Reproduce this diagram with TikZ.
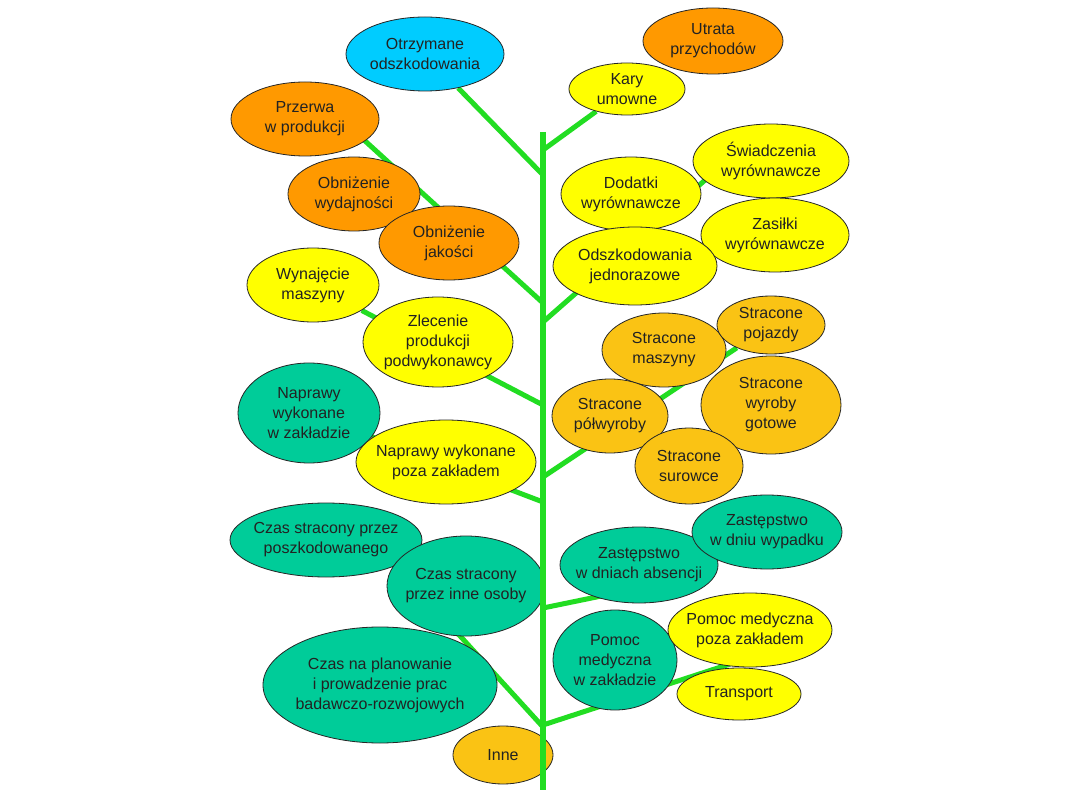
\documentclass[tikz,border=0pt]{standalone}
\usepackage{fontspec}
\setmainfont{Liberation Sans}
\usetikzlibrary{shapes.geometric}
\pgfdeclarelayer{background}
\pgfdeclarelayer{foreground}
\pgfsetlayers{background,main,foreground}
\definecolor{cyanc}{HTML}{00CCFF}
\definecolor{orangec}{HTML}{FF9900}
\definecolor{yellowc}{HTML}{FFFF00}
\definecolor{tealc}{HTML}{00CC99}
\definecolor{goldc}{HTML}{FAC314}
\definecolor{branchc}{HTML}{22DD22}
\definecolor{txtc}{HTML}{222222}
\tikzset{
  leaf/.style={ellipse, draw=black!85, line width=0.8pt, inner xsep=-12pt, inner ysep=-8pt, align=center,
    font=\fontsize{16}{20}\selectfont, text=txtc},
  branch/.style={draw=branchc, line width=5pt},
  trunkline/.style={draw=branchc, line width=6pt},
}
\begin{document}
\begin{tikzpicture}[x=1pt,y=-1pt]
\useasboundingbox (0,0) rectangle (1080,810);

% trunk and branch coordinates
\coordinate (ttop) at (543,132);
\coordinate (tbot) at (543,790);
\coordinate (tL1) at (543,175);
\coordinate (tR1) at (543,150);
\coordinate (tL2) at (543,303);
\coordinate (tR2) at (543,322);
\coordinate (tL3) at (543,405);
\coordinate (tR3) at (543,477);
\coordinate (tL4) at (543,502);
\coordinate (tR4) at (543,608);
\coordinate (tL5) at (543,727);
\coordinate (tR5) at (543,725);
\coordinate (sL2) at (330,109);
\coordinate (sR2) at (720,167);
\coordinate (sL5) at (420,592);
\coordinate (sR4) at (650,586);
\coordinate (sR5) at (730,664);

\path
 node[leaf, fill=cyanc, minimum width=158, minimum height=74] (otrz) at (425,54) {Otrzymane\\odszkodowania}
 node[leaf, fill=orangec, minimum width=140, minimum height=66] (utrata) at (713,41) {Utrata\\przychodów}
 node[leaf, fill=yellowc, minimum width=116, minimum height=52] (kary) at (627,89) {Kary\\umowne}
 node[leaf, fill=orangec, minimum width=148, minimum height=74] (przerwa) at (305,119) {Przerwa\\w produkcji}
 node[leaf, fill=orangec, minimum width=132, minimum height=74] (wydaj) at (354,194) {Obniżenie\\wydajności}
 node[leaf, fill=orangec, minimum width=140, minimum height=74] (jakosc) at (449,243) {Obniżenie\\jakości}
 node[leaf, fill=yellowc, minimum width=132, minimum height=74] (wynaj) at (313,285) {Wynajęcie\\maszyny}
 node[leaf, fill=yellowc, minimum width=150, minimum height=90] (zlec) at (438,342) {Zlecenie\\produkcji\\podwykonawcy}
 node[leaf, fill=tealc, minimum width=142, minimum height=100] (naprw) at (309,413) {Naprawy\\wykonane\\w zakładzie}
 node[leaf, fill=yellowc, minimum width=180, minimum height=84] (naprp) at (446,462) {Naprawy wykonane\\poza zakładem}
 node[leaf, fill=tealc, minimum width=192, minimum height=74] (czasp) at (326,540) {Czas stracony przez\\poszkodowanego}
 node[leaf, fill=tealc, minimum width=158, minimum height=100] (czasi) at (466,586) {Czas stracony\\przez inne osoby}
 node[leaf, fill=tealc, minimum width=234, minimum height=116] (czasn) at (380,685) {Czas na planowanie\\i prowadzenie prac\\badawczo-rozwojowych}
 node[leaf, fill=goldc, minimum width=100, minimum height=58] (inne) at (503,755) {Inne}
 node[leaf, fill=yellowc, minimum width=156, minimum height=74] (swiad) at (771,161) {Świadczenia\\wyrównawcze}
 node[leaf, fill=yellowc, minimum width=140, minimum height=74] (dodat) at (631,194) {Dodatki\\wyrównawcze}
 node[leaf, fill=yellowc, minimum width=148, minimum height=74] (zasil) at (775,235) {Zasiłki\\wyrównawcze}
 node[leaf, fill=yellowc, minimum width=164, minimum height=78] (odszk) at (635,266) {Odszkodowania\\jednorazowe}
 node[leaf, fill=goldc, minimum width=124, minimum height=74] (smasz) at (664,350) {Stracone\\maszyny}
 node[leaf, fill=goldc, minimum width=108, minimum height=58] (spoj) at (771,325) {Stracone\\pojazdy}
 node[leaf, fill=goldc, minimum width=140, minimum height=98] (sgot) at (771,405) {Stracone\\wyroby\\gotowe}
 node[leaf, fill=goldc, minimum width=116, minimum height=74] (spol) at (610,416) {Stracone\\półwyroby}
 node[leaf, fill=goldc, minimum width=108, minimum height=76] (ssur) at (689,466) {Stracone\\surowce}
 node[leaf, fill=tealc, minimum width=158, minimum height=76] (zabs) at (639,565) {Zastępstwo\\w dniach absencji}
 node[leaf, fill=tealc, minimum width=150, minimum height=74] (zwyp) at (767,532) {Zastępstwo\\w dniu wypadku}
 node[leaf, fill=tealc, minimum width=124, minimum height=100] (pomw) at (615,660) {Pomoc\\medyczna\\w zakładzie}
 node[leaf, fill=yellowc, minimum width=164, minimum height=74] (pomp) at (750,630) {Pomoc medyczna\\poza zakładem}
 node[leaf, fill=yellowc, minimum width=124, minimum height=52] (transp) at (739,694) {Transport};

\begin{pgfonlayer}{background}
 \fill[white] (0,0) rectangle (1080,810);
 \draw[branch] (otrz) -- (tL1);
 \draw[branch] (tR1) -- (kary);
 \draw[branch] (sL2) -- (tL2);
 \draw[branch] (tR2) -- (sR2);
 \draw[branch] (wynaj) -- (tL3);
 \draw[branch] (tR3) -- (spoj);
 \draw[branch] (naprw) -- (tL4);
 \draw[branch] (tR4) -- (sR4);
 \draw[branch] (sL5) -- (tL5);
 \draw[branch] (tR5) -- (sR5);
\end{pgfonlayer}
\begin{pgfonlayer}{foreground}
 \draw[trunkline] (ttop) -- (tbot);
\end{pgfonlayer}
\end{tikzpicture}
\end{document}
